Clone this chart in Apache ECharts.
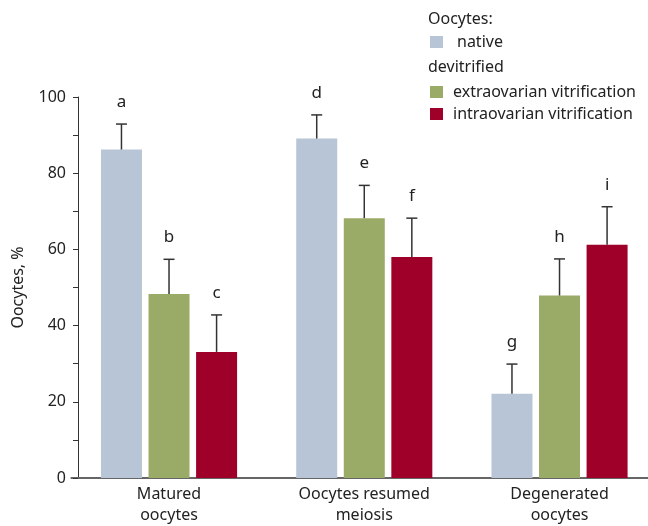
<!DOCTYPE html>
<html>
<head>
<meta charset="utf-8">
<script src="https://cdn.jsdelivr.net/npm/echarts@6/dist/echarts.min.js"></script>
<style>
html,body{margin:0;padding:0;background:#fff;overflow:hidden;}
#chart{width:670px;height:526px;}
</style>
</head>
<body>
<div id="chart"></div>
<script>
const categories = ['Matured\noocytes', 'Oocytes resumed\nmeiosis', 'Degenerated\noocytes'];
const seriesNames = ['native', 'extraovarian vitrification', 'intraovarian vitrification'];
const nativeValues = [86.2, 89.1, 22.1];
const nativeErrors = [6.7, 6.2, 7.8];
const extraValues = [48.3, 68.2, 47.9];
const extraErrors = [9.1, 8.6, 9.6];
const intraValues = [33.1, 58.0, 61.2];
const intraErrors = [9.7, 10.2, 10.0];
const nativeLetters = ['a', 'd', 'g'];
const extraLetters = ['b', 'e', 'h'];
const intraLetters = ['c', 'f', 'i'];
const yTicks = [0, 20, 40, 60, 80, 100];

const FONT = 'Noto Sans';
const TEXT_COLOR = '#222';
const COLORS = ['#b8c5d6', '#9aaa67', '#9e002a'];
const BAR_W = 41;
const BAR_GAP = 0.16;

const values = [nativeValues, extraValues, intraValues];
const errors = [nativeErrors, extraErrors, intraErrors];
const letters = [nativeLetters, extraLetters, intraLetters];

const chart = echarts.init(document.getElementById('chart'), null, {renderer: 'canvas'});

function errorSeries(k) {
  const data = values[k].map((v, i) => [i, v, errors[k][i]]);
  return {
    type: 'custom',
    name: seriesNames[k] + ' error',
    z: 5,
    silent: true,
    data: data,
    encode: {x: 0, y: 1},
    renderItem: function (params, api) {
      const idx = api.value(0);
      const v = api.value(1);
      const e = api.value(2);
      const letter = letters[k][params.dataIndex];
      const offset = (k - 1) * BAR_W * (1 + BAR_GAP);
      const base = api.coord([idx, v]);
      const top = api.coord([idx, v + e]);
      const x = base[0] + offset;
      const lineStyle = {stroke: '#333', lineWidth: 1.5};
      return {
        type: 'group',
        children: [
          {type: 'line', shape: {x1: x, y1: base[1], x2: x, y2: top[1]}, style: lineStyle},
          {type: 'line', shape: {x1: x - 5.5, y1: top[1], x2: x + 5.5, y2: top[1]}, style: lineStyle},
          {type: 'text', x: x, y: top[1] - 22, style: {text: letter, fill: TEXT_COLOR, fontSize: 17, fontFamily: FONT, align: 'center', verticalAlign: 'middle'}}
        ]
      };
    }
  };
}

const option = {
  backgroundColor: '#fff',
  animation: false,
  title: [
    {text: 'Oocytes:', left: 428, top: 10, padding: 0, textStyle: {fontFamily: FONT, fontSize: 16, fontWeight: 'normal', color: TEXT_COLOR, lineHeight: 18}},
    {text: 'devitrified', left: 428, top: 58, padding: 0, textStyle: {fontFamily: FONT, fontSize: 16, fontWeight: 'normal', color: TEXT_COLOR, lineHeight: 18}}
  ],
  legend: [
    {
      data: [seriesNames[0]], left: 430, top: 34, padding: 0, orient: 'vertical',
      icon: 'rect', itemWidth: 13, itemHeight: 12, selectedMode: false,
      textStyle: {fontFamily: FONT, fontSize: 16, color: TEXT_COLOR, lineHeight: 16, padding: [0, 0, 0, 9]}
    },
    {
      data: [seriesNames[1], seriesNames[2]], left: 430, top: 84, padding: 0, orient: 'vertical', itemGap: 6,
      icon: 'rect', itemWidth: 13, itemHeight: 12, selectedMode: false,
      textStyle: {fontFamily: FONT, fontSize: 16, color: TEXT_COLOR, lineHeight: 16, padding: [0, 0, 0, 5]}
    }
  ],
  grid: {left: 71.4, top: 97, width: 585.75, height: 384, containLabel: false},
  xAxis: {
    type: 'category',
    data: categories,
    axisTick: {show: false},
    axisLine: {show: true, lineStyle: {color: '#666', width: 2}},
    axisLabel: {fontFamily: FONT, fontSize: 16, color: TEXT_COLOR, lineHeight: 21, margin: 6, interval: 0}
  },
  yAxis: {
    type: 'value',
    min: yTicks[0], max: yTicks[yTicks.length - 1], interval: yTicks[1] - yTicks[0],
    offset: -6.6,
    name: 'Oocytes, %', nameLocation: 'middle', nameGap: 52,
    nameTextStyle: {fontFamily: FONT, fontSize: 16, color: TEXT_COLOR},
    axisLine: {show: true, lineStyle: {color: '#333', width: 1}},
    axisTick: {show: true, length: 5, lineStyle: {color: '#333'}},
    minorTick: {show: true, splitNumber: 2, length: 5, lineStyle: {color: '#333'}},
    splitLine: {show: false},
    axisLabel: {fontFamily: FONT, fontSize: 16, color: TEXT_COLOR, margin: 12}
  },
  series: [
    {type: 'bar', name: seriesNames[0], data: nativeValues, barWidth: BAR_W, barGap: (BAR_GAP * 100) + '%', itemStyle: {color: COLORS[0]}},
    {type: 'bar', name: seriesNames[1], data: extraValues, barWidth: BAR_W, barGap: (BAR_GAP * 100) + '%', itemStyle: {color: COLORS[1]}},
    {type: 'bar', name: seriesNames[2], data: intraValues, barWidth: BAR_W, barGap: (BAR_GAP * 100) + '%', itemStyle: {color: COLORS[2]}},
    errorSeries(0), errorSeries(1), errorSeries(2)
  ]
};
chart.setOption(option);
</script>
</body>
</html>
